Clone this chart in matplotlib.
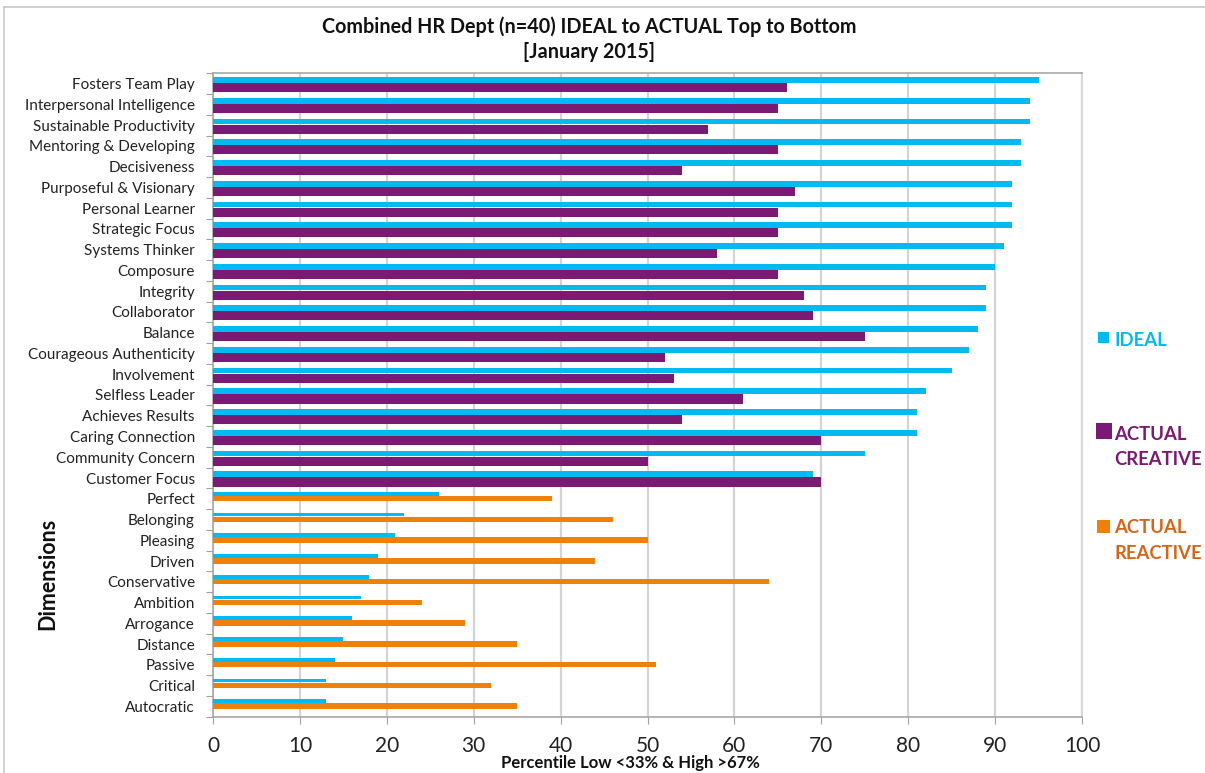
import numpy as np
import matplotlib.pyplot as plt
from matplotlib.patches import Rectangle
from matplotlib.lines import Line2D

plt.rcParams['font.family'] = ['Lato', 'DejaVu Sans']

creative_names = ['Fosters Team Play', 'Interpersonal Intelligence', 'Sustainable Productivity',
                  'Mentoring & Developing', 'Decisiveness', 'Purposeful & Visionary',
                  'Personal Learner', 'Strategic Focus', 'Systems Thinker', 'Composure',
                  'Integrity', 'Collaborator', 'Balance', 'Courageous Authenticity',
                  'Involvement', 'Selfless Leader', 'Achieves Results', 'Caring Connection',
                  'Community Concern', 'Customer Focus']
creative_ideal = [95, 94, 94, 93, 93, 92, 92, 92, 91, 90, 89, 89, 88, 87, 85, 82, 81, 81, 75, 69]
creative_actual = [66, 65, 57, 65, 54, 67, 65, 65, 58, 65, 68, 69, 75, 52, 53, 61, 54, 70, 50, 70]

reactive_names = ['Perfect', 'Belonging', 'Pleasing', 'Driven', 'Conservative', 'Ambition',
                  'Arrogance', 'Distance', 'Passive', 'Critical', 'Autocratic']
reactive_ideal = [26, 22, 21, 19, 18, 17, 16, 15, 14, 13, 13]
reactive_actual = [39, 46, 50, 44, 64, 24, 29, 35, 51, 32, 35]

CYAN = '#00BAF1'
PURPLE = '#7A1A72'
ORANGE = '#F0800C'
GRID = '#d4d4d4'

W, H = 1205, 773
fig = plt.figure(figsize=(W / 100, H / 100), dpi=100)
ax = fig.add_axes([213 / W, 1 - 716.7 / H, (1082 - 213) / W, (716.7 - 73.3) / H])

n_top = len(creative_names)
n_bot = len(reactive_names)
y_top = np.arange(n_top)
y_bot = np.arange(n_top, n_top + n_bot)

# top block: ideal (thin) above creative (thick)
ax.barh(y_top - 0.5 + 0.32, creative_ideal, height=0.28, color=CYAN, zorder=3)
ax.barh(y_top - 0.5 + 0.69, creative_actual, height=0.44, color=PURPLE, zorder=3)
# bottom block: ideal above reactive
ax.barh(y_bot - 0.5 + 0.26, reactive_ideal, height=0.18, color=CYAN, zorder=3)
ax.barh(y_bot - 0.5 + 0.49, reactive_actual, height=0.26, color=ORANGE, zorder=3)

ax.set_xlim(0, 100)
ax.set_ylim(n_top + n_bot - 0.5, -0.5)
ax.set_xticks(range(0, 101, 10))
ax.xaxis.grid(True, color=GRID, linewidth=1.6, zorder=0)
ax.tick_params(axis='x', labelsize=15, length=5, color='#a0a0a0', pad=9, labelcolor='#222222')

ax.set_yticks(np.arange(-0.5, n_top + n_bot, 1))
ax.set_yticklabels([])
ax.tick_params(axis='y', which='major', length=5, color='#a0a0a0')
ax.set_yticks(np.arange(n_top + n_bot), minor=True)
ax.set_yticklabels(creative_names + reactive_names, minor=True)
ax.tick_params(axis='y', which='minor', length=0, pad=13, labelsize=11, labelcolor='#222222')

for s in ax.spines.values():
    s.set_color('#a8a8a8')
    s.set_linewidth(1.2)
ax.spines['right'].set_color(GRID)

fig.text(589 / W, 1 - 27 / H, 'Combined HR Dept (n=40) IDEAL to ACTUAL Top to Bottom',
         ha='center', va='center', fontsize=14.2, fontweight='bold', color='#111111')
fig.text(589 / W, 1 - 52 / H, '[January 2015]',
         ha='center', va='center', fontsize=14.2, fontweight='bold', color='#111111')
fig.text(630 / W, 1 - 763 / H, 'Percentile Low <33% & High >67%',
         ha='center', va='center', fontsize=12, fontweight='bold', color='#111111')
fig.text(48 / W, 1 - 574 / H, 'Dimensions', rotation=90,
         ha='center', va='center', fontsize=15.5, fontweight='bold', color='#111111')

# legend drawn by hand on the right
legend_items = [
    ('IDEAL', CYAN, CYAN, 1098, 332, 11, 340),
    ('ACTUAL\nCREATIVE', PURPLE, PURPLE, 1096, 423, 16, 447),
    ('ACTUAL\nREACTIVE', ORANGE, '#D4661A', 1097, 520, 13, 540.5),
]
for label, fc, tc, x0, y0, sz, ty in legend_items:
    fig.patches.append(Rectangle((x0 / W, 1 - (y0 + sz) / H), sz / W, sz / H,
                                 transform=fig.transFigure, facecolor=fc, edgecolor='none'))
    fig.text(1114 / W, 1 - ty / H, label, ha='left', va='center', fontsize=13.3,
             fontweight='bold', color=tc, linespacing=1.6)

# chart frame (top and left edges visible)
fig.add_artist(Line2D([4 / W, 4 / W], [0, 1 - 7 / H], transform=fig.transFigure,
                      color='#c8c8c8', linewidth=1.2))
fig.add_artist(Line2D([4 / W, 1], [1 - 7 / H, 1 - 7 / H], transform=fig.transFigure,
                      color='#c8c8c8', linewidth=1.2))

fig.savefig('out.png', dpi=100)
